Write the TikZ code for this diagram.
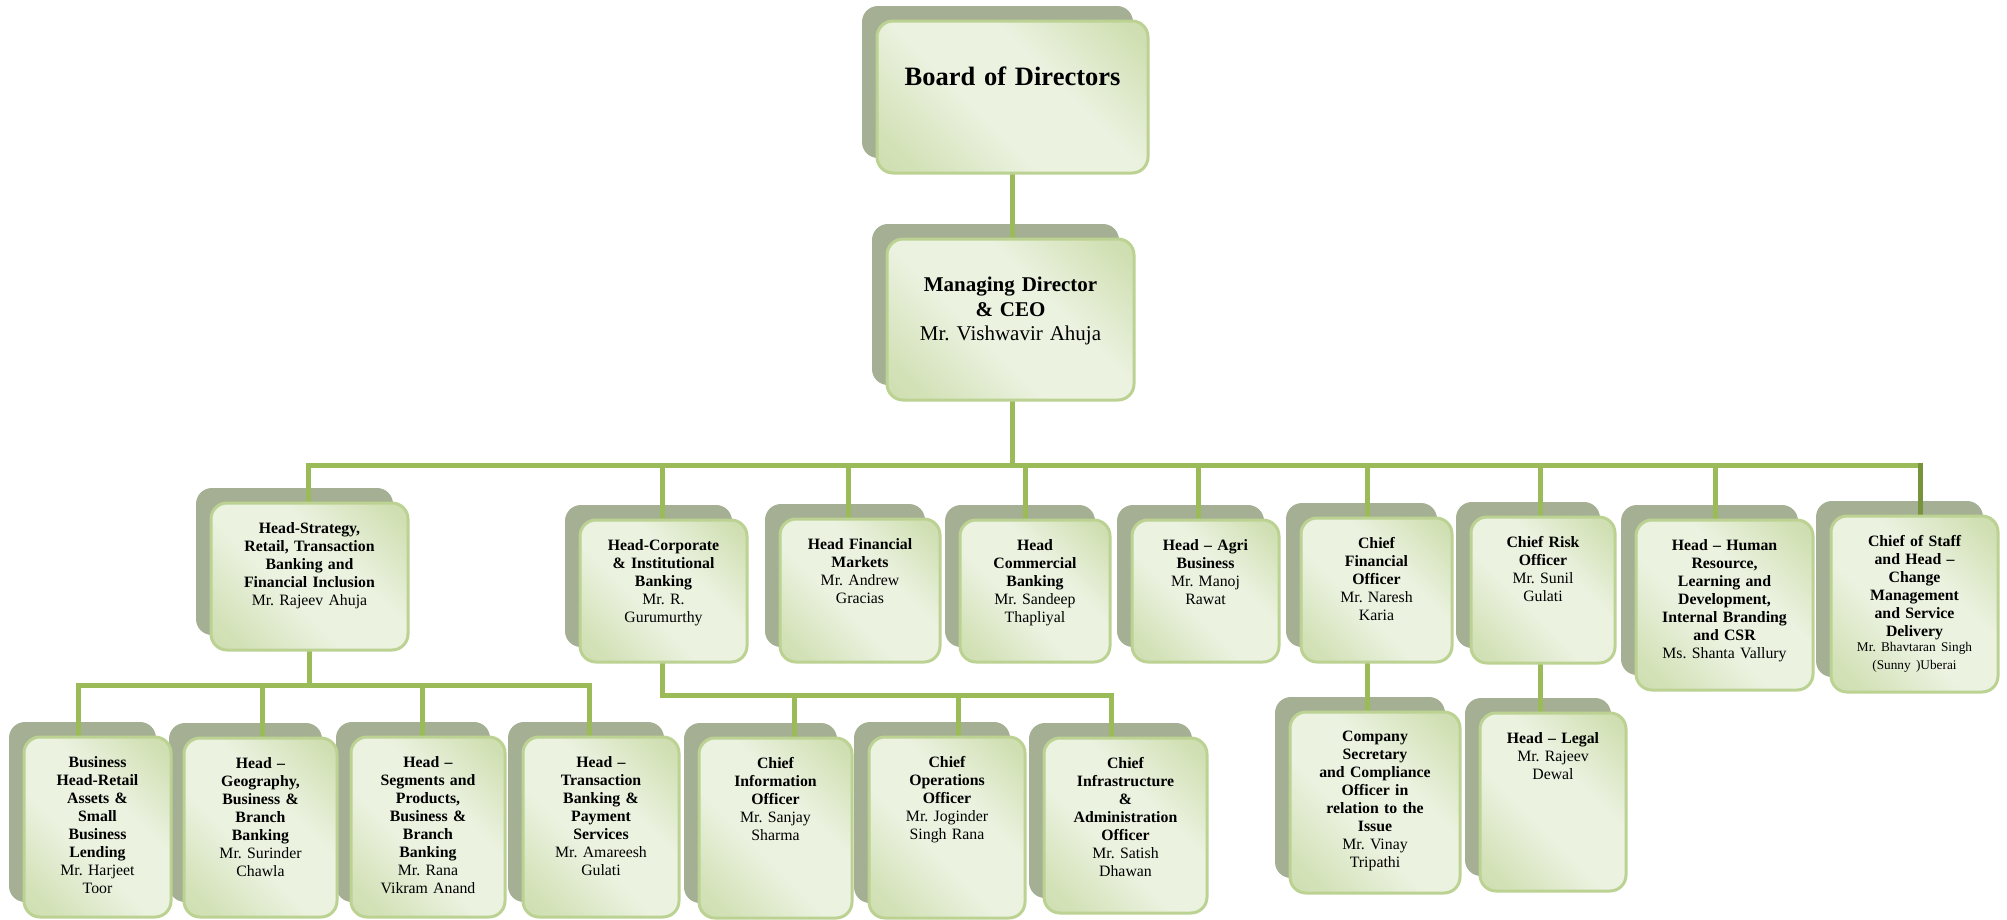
\documentclass[tikz,border=0pt]{standalone}
\usepackage{fontspec}
\setmainfont{Liberation Serif}
\frenchspacing

\definecolor{shadowc}{HTML}{A5AF93}
\definecolor{gdark}{HTML}{C0D497}
\definecolor{glight}{HTML}{EBF2E0}
\definecolor{edgec}{HTML}{BCD292}
\definecolor{connc}{HTML}{9BBB59}
\definecolor{conndark}{HTML}{77933C}

% card fill: green corners top right and bottom left, pale band between
\pgfdeclareverticalshading{cardshade}{100bp}{%
  color(0bp)=(gdark!85!glight); color(22bp)=(gdark!55!glight);
  color(42bp)=(glight); color(60bp)=(glight);
  color(80bp)=(gdark!60!glight); color(100bp)=(gdark)}

\pgfdeclarelayer{bg}
\pgfdeclarelayer{shad}
\pgfdeclarelayer{conn}
\pgfsetlayers{bg,shad,conn,main}

\tikzset{
  shadowbox/.style={fill=shadowc, rounded corners=16pt},
  frontbox/.style={draw=edgec, line width=3pt, rounded corners=16pt,
    shade, shading=cardshade, shading angle=-45,
    inner sep=0pt, outer sep=0pt},
  conn/.style={draw=connc, line width=5pt, line cap=rect},
  boxtext/.style={anchor=north, inner sep=0pt, text width=200pt, align=center,
    font=\fontsize{15.8}{18}\selectfont},
}

% #1 name, (#2,#3) top left and (#4,#5) bottom right of the front card
\newcommand\orgbox[5]{%
  \begin{pgfonlayer}{shad}
    \fill[shadowbox] (#2-15,#3-15) rectangle (#4-15,#5-15);
  \end{pgfonlayer}
  \node[frontbox, minimum width={(#4)-(#2)}, minimum height={(#5)-(#3)}]
    (#1) at ({((#2)+(#4))/2},{((#3)+(#5))/2}) {};
}
\newcommand\orgtext[2]{\node[boxtext] (#1-t) at ([yshift=-19pt]#1.north) {#2};}

\begin{document}
\begin{tikzpicture}[x=1pt,y=-1pt]
\useasboundingbox (0,0) rectangle (2007,919);
\begin{pgfonlayer}{bg}
  \fill[white] (0,0) rectangle (2007,919);
\end{pgfonlayer}

% cards
\orgbox{b}{877}{21}{1148}{173}
\orgbox{md}{887}{239}{1134}{400}
\orgbox{hs}{211}{503}{408}{650}
\orgbox{corp}{580}{520}{747}{662}
\orgbox{fin}{780}{519}{940}{662}
\orgbox{comm}{960}{520}{1110}{662}
\orgbox{agri}{1132}{520}{1279}{662}
\orgbox{cfo}{1301}{518}{1452}{662}
\orgbox{cro}{1471}{517}{1615}{663}
\orgbox{hr}{1636}{520}{1813}{690}
\orgbox{cos}{1831}{516}{1998}{692}
\orgbox{ret}{24}{737}{171}{917}
\orgbox{geo}{184}{738}{337}{917}
\orgbox{seg}{351}{737}{505}{917}
\orgbox{txn}{523}{737}{679}{917}
\orgbox{cio}{699}{738}{852}{918}
\orgbox{coo}{869}{737}{1025}{918}
\orgbox{ciao}{1044}{738}{1207}{913}
\orgbox{sec}{1290}{712}{1460}{893}
\orgbox{legal}{1480}{713}{1626}{891}

% card texts
\node[boxtext, font=\fontsize{26.5}{30}\selectfont\bfseries, text width=300pt]
  (b-t) at ([yshift=-46pt]b.north) {Board of Directors};
\node[boxtext, font=\fontsize{21}{24.5}\selectfont, text width=300pt]
  (md-t) at ([yshift=-38pt]md.north)
  {\bfseries Managing Director\\\& CEO\\\mdseries Mr. Vishwavir Ahuja};
\orgtext{hs}{\bfseries Head-Strategy,\\Retail, Transaction\\Banking and\\Financial Inclusion\\\mdseries Mr. Rajeev Ahuja}
\orgtext{corp}{\bfseries Head-Corporate\\\& Institutional\\Banking\\\mdseries Mr. R.\\Gurumurthy}
\orgtext{fin}{\bfseries Head Financial\\Markets\\\mdseries Mr. Andrew\\Gracias}
\orgtext{comm}{\bfseries Head\\Commercial\\Banking\\\mdseries Mr. Sandeep\\Thapliyal}
\orgtext{agri}{\bfseries Head – Agri\\Business\\\mdseries Mr. Manoj\\Rawat}
\orgtext{cfo}{\bfseries Chief\\Financial\\Officer\\\mdseries Mr. Naresh\\Karia}
\orgtext{cro}{\bfseries Chief Risk\\Officer\\\mdseries Mr. Sunil\\Gulati}
\orgtext{hr}{\bfseries Head – Human\\Resource,\\Learning and\\Development,\\Internal Branding\\and CSR\\\mdseries Ms. Shanta Vallury}
\orgtext{cos}{\bfseries Chief of Staff\\and Head –\\Change\\Management\\and Service\\Delivery\par
  \vspace{-3.5pt}\mdseries\fontsize{13.3}{19}\selectfont Mr. Bhavtaran Singh\\(Sunny )Uberai}
\orgtext{ret}{\bfseries Business\\Head-Retail\\Assets \&\\Small\\Business\\Lending\\\mdseries Mr. Harjeet\\Toor}
\orgtext{geo}{\bfseries Head –\\Geography,\\Business \&\\Branch\\Banking\\\mdseries Mr. Surinder\\Chawla}
\orgtext{seg}{\bfseries Head –\\Segments and\\Products,\\Business \&\\Branch\\Banking\\\mdseries Mr. Rana\\Vikram Anand}
\orgtext{txn}{\bfseries Head –\\Transaction\\Banking \&\\Payment\\Services\\\mdseries Mr. Amareesh\\Gulati}
\orgtext{cio}{\bfseries Chief\\Information\\Officer\\\mdseries Mr. Sanjay\\Sharma}
\orgtext{coo}{\bfseries Chief\\Operations\\Officer\\\mdseries Mr. Joginder\\Singh Rana}
\orgtext{ciao}{\bfseries Chief\\Infrastructure\\\&\\Administration\\Officer\\\mdseries Mr. Satish\\Dhawan}
\orgtext{sec}{\bfseries Company\\Secretary\\and Compliance\\Officer in\\relation to the\\Issue\\\mdseries Mr. Vinay\\Tripathi}
\orgtext{legal}{\bfseries Head – Legal\\\mdseries Mr. Rajeev\\Dewal}

% reporting lines
\begin{pgfonlayer}{conn}
  \coordinate (barL) at (308,465);
  \coordinate (barR) at (1920,465);
  \draw[conn] (b.south) -- (b.south |- md.north);
  \draw[conn] (b.south |- md.south) -- (b.south |- barL);
  \draw[conn] (barL) -- (barR);
  \draw[conn] (barL) -- (barL |- hs.north);
  \foreach \n/\x in {corp/662, fin/848, comm/1025, agri/1198, cfo/1367, cro/1540, hr/1715}{
    \coordinate (j-\n) at (\x,465);
    \draw[conn] (j-\n) -- (j-\n |- \n.north);
  }
  \draw[conn, draw=conndark] (barR) -- (barR |- cos.north);

  % retail and branch heads
  \coordinate (lbarL) at (78,685);
  \coordinate (lbarR) at (589,685);
  \draw[conn] (hs.south) -- (hs.south |- lbarL);
  \draw[conn] (lbarL) -- (lbarR);
  \foreach \n/\x in {ret/78, geo/262, seg/422, txn/589}{
    \coordinate (k-\n) at (\x,685);
    \draw[conn] (k-\n) -- (k-\n |- \n.north);
  }

  % corporate banking reports
  \coordinate (cbarL) at (662,695);
  \coordinate (cbarR) at (1111,695);
  \draw[conn] (cbarL |- corp.south) -- (cbarL);
  \draw[conn] (cbarL) -- (cbarR);
  \foreach \n/\x in {cio/794, coo/958, ciao/1111}{
    \coordinate (m-\n) at (\x,695);
    \draw[conn] (m-\n) -- (m-\n |- \n.north);
  }

  % finance and risk reports
  \draw[conn] (j-cfo |- cfo.south) -- (j-cfo |- sec.north);
  \draw[conn] (j-cro |- cro.south) -- (j-cro |- legal.north);
\end{pgfonlayer}
\end{tikzpicture}
\end{document}
